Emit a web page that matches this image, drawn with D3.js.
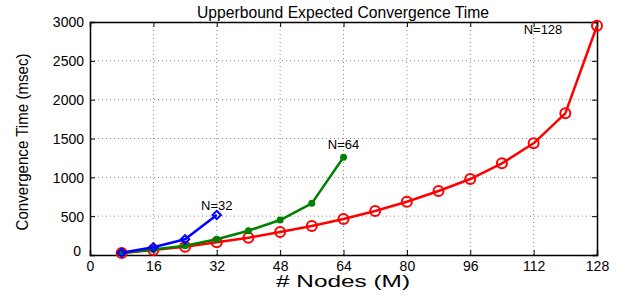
<!DOCTYPE html>
<html><head><meta charset="utf-8">
<script src="https://cdn.jsdelivr.net/npm/d3@7"></script>
<style>body{margin:0;background:#fff}svg{display:block}</style>
</head><body>
<script>
const xN32 = [8,16,24,32];
const yN32 = [30,99,202,515];
const xN64 = [8,16,24,32,40,48,56,64];
const yN64 = [25,70,120,202,313,450,665,1258];
const xN128 = [8,16,24,32,40,48,56,64,72,80,88,96,104,112,120,128];
const yN128 = [25,64,107,163,223,296,373,463,566,686,824,978,1180,1438,1824,2952];
const xTicks = [0,16,32,48,64,80,96,112,128];
const yTicks = [0,500,1000,1500,2000,2500,3000];

const W=626,H=297;
const svg=d3.select("body").append("svg").attr("width",W).attr("height",H);
const x=d3.scaleLinear().domain([0,128]).range([90,597]);
const y=d3.scaleLinear().domain([0,3000]).range([255,22]);
const font="Liberation Sans, Arial, sans-serif";

// grid
svg.append("g").selectAll("line").data(xTicks.slice(1,-1)).join("line")
 .attr("x1",d=>x(d)).attr("x2",d=>x(d)).attr("y1",y(0)).attr("y2",y(3000))
 .attr("stroke","#888").attr("stroke-width",1).attr("stroke-dasharray","1,3");
svg.append("g").selectAll("line").data(yTicks.slice(1,-1)).join("line")
 .attr("y1",d=>y(d)).attr("y2",d=>y(d)).attr("x1",x(0)).attr("x2",x(128))
 .attr("stroke","#888").attr("stroke-width",1).attr("stroke-dasharray","1,3");

// axes
const xa=svg.append("g").attr("transform",`translate(0,${y(0)})`)
 .call(d3.axisBottom(x).tickValues(xTicks).tickSize(-5).tickPadding(8).tickFormat(d3.format("d")));
const xa2=svg.append("g").attr("transform",`translate(0,${y(3000)})`)
 .call(d3.axisTop(x).tickValues(xTicks).tickSize(-5).tickFormat(""));
const ya=svg.append("g").attr("transform",`translate(${x(0)},0)`)
 .call(d3.axisLeft(y).tickValues(yTicks).tickSize(-5).tickPadding(6).tickFormat(d3.format("d")));
const ya2=svg.append("g").attr("transform",`translate(${x(128)},0)`)
 .call(d3.axisRight(y).tickValues(yTicks).tickSize(-5).tickFormat(""));
[xa,xa2,ya,ya2].forEach(g=>{
 g.select(".domain").attr("stroke","#000").attr("stroke-width",1.5);
 g.selectAll(".tick line").attr("stroke","#000");
 g.selectAll("text").attr("font-family",font).attr("font-size",14).attr("fill","#000");
});
xa.selectAll(".tick text").attr("dy","0.55em");
ya.selectAll(".tick text").attr("dy","0.35em");
ya.selectAll(".tick").filter(d=>d===0).select("text").attr("dy","0em").attr("dx","-3");

const line=d3.line().x(d=>x(d[0])).y(d=>y(d[1]));
function series(xs,ys,color,marker){
 const pts=xs.map((v,i)=>[v,ys[i]]);
 svg.append("path").datum(pts).attr("d",line).attr("fill","none")
  .attr("stroke",color).attr("stroke-width",2.5).attr("stroke-linejoin","round");
 const g=svg.append("g");
 if(marker==="circle"){
  g.selectAll("circle").data(pts).join("circle").attr("cx",d=>x(d[0])).attr("cy",d=>y(d[1]))
   .attr("r",5).attr("fill","none").attr("stroke",color).attr("stroke-width",2);
 } else if(marker==="dot"){
  g.selectAll("circle").data(pts).join("circle").attr("cx",d=>x(d[0])).attr("cy",d=>y(d[1]))
   .attr("r",3.5).attr("fill",color);
 } else {
  g.selectAll("path").data(pts).join("path")
   .attr("d",d3.symbol(d3.symbolDiamond2,45)).attr("transform",d=>`translate(${x(d[0])},${y(d[1])})`)
   .attr("fill","none").attr("stroke",color).attr("stroke-width",2);
 }
}
series(xN128,yN128,"#ff0000","circle");
series(xN64,yN64,"#008000","dot");
series(xN32,yN32,"#0000ff","diamond");

// annotations
const ann=[["N=32",32,515,-5],["N=64",64,1258,-8],["N=128",128,2952,8]];
svg.append("g").selectAll("text").data(ann).join("text")
 .attr("x",d=>x(d[1])-(d[0]==="N=128"?54:0)).attr("y",d=>y(d[2])+d[3])
 .attr("text-anchor","middle")
 .attr("font-family",font).attr("font-size",13).text(d=>d[0]);

// titles
svg.append("text").attr("x",343).attr("y",18).attr("text-anchor","middle")
 .attr("font-family",font).attr("font-size",17).attr("textLength",292).attr("lengthAdjust","spacingAndGlyphs")
 .text("Upperbound Expected Convergence Time");
svg.append("text").attr("x",343).attr("y",287).attr("text-anchor","middle")
 .attr("font-family",font).attr("font-size",16).attr("textLength",134).attr("lengthAdjust","spacingAndGlyphs")
 .text("# Nodes (M)");
svg.append("text").attr("transform","translate(28,142) rotate(-90)").attr("text-anchor","middle")
 .attr("font-family",font).attr("font-size",16).attr("textLength",177).attr("lengthAdjust","spacingAndGlyphs")
 .text("Convergence Time (msec)");
</script>
</body></html>
